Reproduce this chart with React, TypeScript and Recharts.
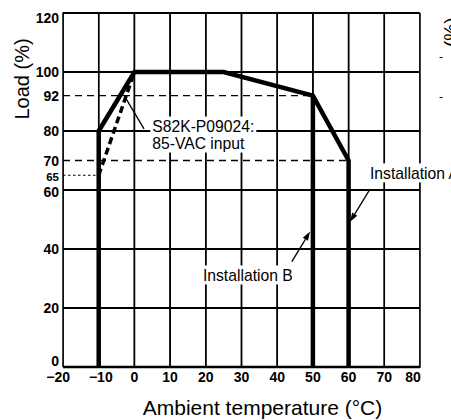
import { LineChart, Line, XAxis, YAxis, ReferenceLine, ReferenceDot, ReferenceArea, Label } from "recharts";

const FONT = "'Liberation Sans', Arial, Helvetica, sans-serif";

// axes
const xTicks = [-20, -10, 0, 10, 20, 30, 40, 50, 60, 70, 80];
const yTicks = [0, 20, 40, 60, 65, 70, 80, 92, 100, 120];
const gridX = [-20, -10, 0, 10, 20, 30, 40, 50, 60, 70, 80];
const gridY = [20, 40, 60, 80, 100];

// derating curves (temp in °C, load in %)
const installA = [
  { temp: -10, load: 0 },
  { temp: -10, load: 80 },
  { temp: 0, load: 100 },
  { temp: 25, load: 100 },
  { temp: 50, load: 92 },
  { temp: 60, load: 70 },
  { temp: 60, load: 0 },
];
const installB = [
  { temp: 50, load: 92 },
  { temp: 50, load: 0 },
];
const vac85 = [
  { temp: -10, load: 65 },
  { temp: 0, load: 100 },
];

// guide lines
const dashedGuides = [
  { load: 92, until: 50 },
  { load: 70, until: 60 },
];
const dottedGuide = { load: 65, until: -10 };

// annotations
const notes = [
  { temp: 5, load: 78.8, lines: ["S82K-P09024:", "85-VAC input"] },
  { temp: 66, load: 65.8, lines: ["Installation A"] },
  { temp: 19.2, load: 31.2, lines: ["Installation B"] },
];
const leaders = [
  { from: { x: 2.7, y: 80.7 }, to: { x: -2.6, y: 91.5 }, arrow: false },
  { from: { x: 66, y: 60.3 }, to: { x: 60.4, y: 49.2 }, arrow: true },
  { from: { x: 44.1, y: 35.7 }, to: { x: 49.2, y: 45.9 }, arrow: true },
];

const NOTE_FS = 15.7;

function textWidth(s: string, font: string) {
  const ctx = document.createElement("canvas").getContext("2d");
  if (!ctx) return s.length * 8;
  ctx.font = font;
  return ctx.measureText(s).width;
}

// one polyline running up and down through every vertical grid value
const gridZigzag = gridX.flatMap((v, i) =>
  i % 2 === 0
    ? [
        { temp: v, load: 0 },
        { temp: v, load: 120 },
      ]
    : [
        { temp: v, load: 120 },
        { temp: v, load: 0 },
      ]
);

const XTick = ({ x, y, payload }: any) => {
  const v = payload.value;
  const label = v < 0 ? `\u2212${-v}` : `${v}`;
  const shift = v === -20 ? 7 : v === -10 ? 14 : v === 80 ? -7 : 0;
  return (
    <text x={x + shift} y={y} dy={15} textAnchor={v < 0 ? "end" : "middle"} fontSize={14} fontWeight="bold" fontFamily={FONT} fill="#000">
      {label}
    </text>
  );
};

const YTick = ({ x, y, payload }: any) => {
  const v = payload.value;
  const small = v === 65;
  const dy = v === 120 ? 10 : v === 0 ? -1 : small ? 6 : v === 60 ? 6.5 : 5;
  return (
    <text x={x} y={y} dy={dy} textAnchor="end" fontSize={small ? 11.5 : 14} fontWeight="bold" fontFamily={FONT} fill="#000">
      {v}
    </text>
  );
};

const noteShape = (lines: string[]) => (p: any) => {
  const lh = 17;
  const w = Math.max(...lines.map((l) => textWidth(l, `${NOTE_FS}px 'Liberation Sans'`)));
  const top = p.cy - (lines.length * lh) / 2;
  return (
    <g>
      <rect x={p.cx - 2} y={top - 1} width={w + 4} height={lines.length * lh + 2} fill="#fff" />
      {lines.map((l, i) => (
        <text key={i} x={p.cx} y={top + i * lh + lh / 2 + 6} fontSize={NOTE_FS} fontFamily={FONT} fill="#000">
          {l}
        </text>
      ))}
    </g>
  );
};

const leaderShape = (arrow: boolean) => (p: any) => {
  const { x1, y1, x2, y2 } = p;
  const a = Math.atan2(y2 - y1, x2 - x1);
  const len = 9;
  const half = 3;
  const bx = x2 - len * Math.cos(a);
  const by = y2 - len * Math.sin(a);
  const nx = -Math.sin(a) * half;
  const ny = Math.cos(a) * half;
  return (
    <g>
      <line x1={x1} y1={y1} x2={arrow ? bx : x2} y2={arrow ? by : y2} stroke="#000" strokeWidth={1.3} />
      {arrow && <polygon points={`${x2},${y2} ${bx + nx},${by + ny} ${bx - nx},${by - ny}`} fill="#000" />}
    </g>
  );
};

export default function App() {
  return (
    <div style={{ width: 451, height: 420 }}>
      <style>{"body{margin:0}"}</style>
      <LineChart width={451} height={420} margin={{ top: 13, right: 31, bottom: 0, left: 0 }}>
        <XAxis
          type="number"
          dataKey="temp"
          domain={[-20, 80]}
          ticks={xTicks}
          interval={0}
          height={53}
          tickSize={0}
          tickMargin={0}
          tickLine={false}
          axisLine={false}
          tick={<XTick />}
        >
          <Label
            content={(p: any) => {
              const vb = p.viewBox;
              return (
                <text x={vb.x + vb.width / 2 + 21} y={vb.y + 48} textAnchor="middle" fontSize={21} fontFamily={FONT} fill="#000">
                  Ambient temperature (°C)
                </text>
              );
            }}
          />
        </XAxis>
        <YAxis
          type="number"
          domain={[0, 120]}
          ticks={yTicks}
          interval={0}
          width={63}
          tickSize={0}
          tickMargin={4}
          tickLine={false}
          axisLine={false}
          tick={<YTick />}
        >
          <Label
            content={(p: any) => {
              const vb = p.viewBox;
              const cx = vb.x + 29;
              const cy = vb.y + 66;
              return (
                <text x={cx} y={cy} transform={`rotate(-90 ${cx} ${cy})`} textAnchor="middle" fontSize={20} fontFamily={FONT} fill="#000">
                  Load (%)
                </text>
              );
            }}
          />
        </YAxis>

        {/* vertical grid as thin strips */}
        {gridX.map((v) => (
          <ReferenceArea key={`gs${v}`} x1={v === -20 ? v : v - 0.2} x2={v === 80 ? v : v + 0.2} fill="#000" fillOpacity={1} stroke="none" ifOverflow="visible" />
        ))}

        {gridY.map((v) => (
          <ReferenceLine key={`gy${v}`} y={v} stroke="#000" strokeWidth={2} />
        ))}
        {dashedGuides.map((g) => (
          <ReferenceLine
            key={`dg${g.load}`}
            segment={[
              { x: -20, y: g.load },
              { x: g.until, y: g.load },
            ]}
            stroke="#000"
            strokeWidth={1.4}
            strokeDasharray="7 5"
          />
        ))}
        <ReferenceLine
          segment={[
            { x: -20, y: dottedGuide.load },
            { x: dottedGuide.until, y: dottedGuide.load },
          ]}
          stroke="#000"
          strokeWidth={1}
          strokeDasharray="2.5 2.5"
        />
        <ReferenceLine y={0} stroke="#000" strokeWidth={2.4} />
        <ReferenceLine y={120} stroke="#000" strokeWidth={2} />

        <Line data={installA} dataKey="load" type="linear" stroke="#000" strokeWidth={4.5} dot={false} activeDot={false} isAnimationActive={false} />
        <Line data={installB} dataKey="load" type="linear" stroke="#000" strokeWidth={4.5} dot={false} activeDot={false} isAnimationActive={false} />
        <Line data={vac85} dataKey="load" type="linear" stroke="#000" strokeWidth={3.5} strokeDasharray="7 4" dot={false} activeDot={false} isAnimationActive={false} />
        {/* vertical grid as one zigzag polyline */}
        <Line data={gridZigzag} dataKey="load" type="linear" stroke="#000" strokeWidth={1.5} dot={false} activeDot={false} isAnimationActive={false} />

        {notes.map((n) => (
          <ReferenceDot key={n.lines[0]} x={n.temp} y={n.load} r={1} zIndex={2500} shape={noteShape(n.lines)} />
        ))}
        {leaders.map((l, i) => (
          <ReferenceLine key={`ld${i}`} segment={[l.from, l.to]} zIndex={2600} shape={leaderShape(l.arrow)} />
        ))}
      </LineChart>
      {/* edge of the neighbouring figure */}
      <span style={{ position: "absolute", left: 441, top: 47, fontFamily: FONT, fontSize: 19, lineHeight: "19px", transform: "rotate(-90deg)", transformOrigin: "left top", whiteSpace: "nowrap" }}>
        (%)
      </span>
      <span style={{ position: "absolute", left: 439, top: 50, fontFamily: FONT, fontSize: 12 }}>-</span>
      <span style={{ position: "absolute", left: 439, top: 90, fontFamily: FONT, fontSize: 12 }}>-</span>
    </div>
  );
}
